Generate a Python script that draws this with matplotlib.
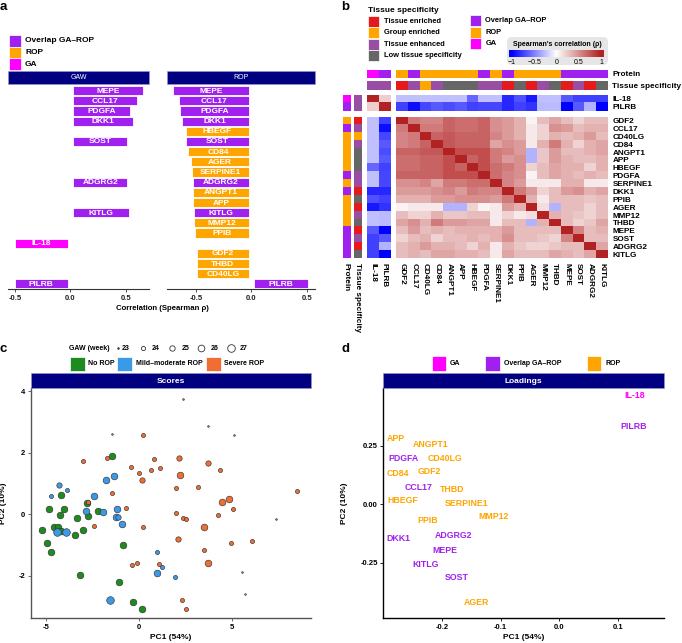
import numpy as np
import matplotlib
matplotlib.use('Agg')
import matplotlib.pyplot as plt
from matplotlib.colors import LinearSegmentedColormap, Normalize, to_rgb
from matplotlib.patches import Rectangle, FancyBboxPatch

plt.rcParams['font.family'] = ['Liberation Sans', 'DejaVu Sans']
plt.rcParams['axes.unicode_minus'] = False

nan = np.nan

# ---------------- data: panel a ----------------
a_genes = ['MEPE', 'CCL17', 'PDGFA', 'DKK1', 'HBEGF', 'SOST', 'CD84', 'AGER', 'SERPINE1',
           'ADGRG2', 'ANGPT1', 'APP', 'KITLG', 'MMP12', 'PPIB', 'IL-18', 'GDF2', 'THBD',
           'CD40LG', 'PILRB']
OV, RP, GA = 'Overlap GA–ROP', 'ROP', 'GA'
a_group = [OV, OV, OV, OV, RP, OV, RP, RP, RP, OV, RP, RP, OV, RP, RP, GA, RP, RP, RP, OV]
gaw_rho = [0.652, 0.604, 0.538, 0.562, nan, 0.508, nan, nan, nan, 0.514, nan, nan, 0.526,
           nan, nan, -0.498, nan, nan, nan, -0.498]
rop_rho = [-0.704, -0.653, -0.644, -0.629, -0.593, -0.593, -0.575, -0.542, -0.536, -0.530,
           -0.527, -0.524, -0.518, -0.515, -0.506, nan, -0.491, -0.491, -0.491, 0.512]

# ---------------- data: panel b ----------------
hm_genes = ['GDF2', 'CCL17', 'CD40LG', 'CD84', 'ANGPT1', 'APP', 'HBEGF', 'PDGFA', 'SERPINE1',
            'DKK1', 'PPIB', 'AGER', 'MMP12', 'THBD', 'MEPE', 'SOST', 'ADGRG2', 'KITLG']
hm_protein = [RP, OV, RP, RP, RP, RP, RP, OV, RP, OV, RP, RP, RP, RP, OV, OV, OV, OV]
TE, GE, TH, LO = 'Tissue enriched', 'Group enriched', 'Tissue enhanced', 'Low tissue specificity'
hm_tissue = [TE, TH, GE, TH, LO, LO, LO, TH, TH, TE, LO, TE, TH, LO, TE, TH, TE, LO]
side_genes = ['IL-18', 'PILRB']
side_protein = [GA, OV]
side_tissue = [TH, TH]
# lower triangle of the Spearman correlation matrix among hm_genes
corr_lower = [
    [1],
    [0.60, 1],
    [0.55, 0.60, 1],
    [0.55, 0.60, 0.70, 1],
    [0.70, 0.70, 0.75, 0.75, 1],
    [0.65, 0.65, 0.70, 0.70, 0.80, 1],
    [0.65, 0.65, 0.70, 0.70, 0.80, 0.70, 1],
    [0.70, 0.70, 0.70, 0.70, 0.80, 0.80, 0.80, 1],
    [0.50, 0.50, 0.55, 0.40, 0.60, 0.60, 0.65, 0.65, 1],
    [0.45, 0.45, 0.45, 0.50, 0.55, 0.45, 0.60, 0.55, 0.55, 1],
    [0.35, 0.35, 0.35, 0.45, 0.45, 0.50, 0.50, 0.50, 0.45, 0.60, 1],
    [0.05, 0.10, 0.10, 0.10, -0.30, -0.30, 0.20, 0.05, 0.10, 0.45, 0.35, 1],
    [0.30, 0.20, 0.20, 0.35, 0.25, 0.25, 0.30, 0.30, 0.10, 0.20, 0.10, 0.15, 1],
    [0.40, 0.50, 0.35, 0.60, 0.45, 0.45, 0.40, 0.40, 0.10, 0.30, 0.30, -0.30, 0.35, 1],
    [0.30, 0.45, 0.30, 0.35, 0.30, 0.35, 0.35, 0.35, 0.35, 0.45, 0.30, 0.30, 0.30, 0.30, 1],
    [0.20, 0.30, 0.35, 0.20, 0.30, 0.30, 0.35, 0.30, 0.35, 0.50, 0.30, 0.30, 0.25, 0.20, 0.55, 1],
    [0.30, 0.35, 0.45, 0.35, 0.35, 0.30, 0.20, 0.35, 0.10, 0.35, 0.25, 0.20, 0.20, 0.25, 0.30, 0.30, 1],
    [0.30, 0.35, 0.30, 0.40, 0.40, 0.35, 0.35, 0.30, 0.10, 0.40, 0.30, 0.30, 0.30, 0.40, 0.35, 0.30, 0.40, 1],
]
side_side = [[1.0, 0.22], [0.22, 1.0]]
side_main = [
    [-0.25, -0.25, -0.25, -0.25, -0.25, -0.25, -0.60, -0.25, -0.25, -0.85, -0.68, -0.90,
     -0.25, -0.25, -0.65, -0.75, -0.75, -0.75],
    [-0.75, -0.95, -0.72, -0.65, -0.70, -0.65, -0.75, -0.72, -0.72, -0.85, -0.75, -0.80,
     -0.27, -0.27, -1.00, -0.65, -0.30, -1.00],
]
cb_ticks = [-1, -0.5, 0, 0.5, 1]
cb_labels = ['−1', '−0.5', '0', '0.5', '1']

# ---------------- data: panel c ----------------
pc_group = (['No ROP'] * 22 + ['Mild–moderate ROP'] * 19 + ['Severe ROP'] * 46)
pc1 = [-1.45, -4.19, -2.80, -4.84, -4.05, -4.26, -2.20, -3.35, -2.76, -5.25, -4.57, -4.35,
       -4.19, -3.04, -3.44, -4.98, -4.73, -0.89, -3.20, -1.11, -0.34, 0.16,
       -1.38, -1.77, -4.33, -3.87, -4.73, -2.44, -2.87, -1.94, -1.18, -1.24, -1.13, -0.95,
       -4.41, -3.92, 0.95, 1.24, 0.95, 1.92, -1.56,
       -1.45, 0.20, -1.72, -3.04, 0.77, -0.46, 1.13, 0.61, 0.00, 0.13, -1.48, -2.74, -0.73,
       -2.42, 0.20, -0.39, -0.14, 1.04, 2.37, 3.68, 5.09, 2.13, 3.68, 4.36, 2.20, 1.99, 3.14,
       8.48, 4.84, 4.46, 5.05, 1.99, 2.35, 2.51, 4.23, 7.35, 3.48, 2.10, 4.93, 6.08, 3.48,
       3.69, 5.50, 5.68, 2.30, 2.53]
pc2 = [1.89, 0.64, 0.36, 0.16, 0.16, -0.01, 0.10, -0.11, -0.07, -0.52, -0.40, -0.40,
       -0.54, -0.50, -0.66, -0.94, -1.23, -0.99, -1.98, -2.19, -2.85, -3.08,
       1.24, 1.12, 0.94, 0.79, 0.59, 0.59, 0.12, 0.08, 0.17, -0.10, -0.10, -0.31,
       -0.58, -0.58, -1.24, -1.70, -1.92, -2.04, -2.77,
       2.59, 2.56, 1.82, 1.72, 1.78, 1.53, 1.51, 1.45, 1.34, 1.10, 0.70, 0.40, 0.21,
       -0.37, -0.42, -1.65, -1.58, -1.63, 3.73, 2.87, 2.57, 1.83, 1.66, 1.45, 1.26, 0.85, 0.88,
       0.77, 0.51, 0.40, 0.18, 0.03, -0.12, -0.17, -0.04, -0.17, -0.41, -0.81, -0.93, -0.86, -1.17,
       -1.60, -1.89, -2.60, -2.78, -3.08]
gaw_week = [26, 26, 26, 26, 26, 26, 26, 26, 26, 26, 26, 26, 26, 26, 26, 26, 26, 26, 26, 26, 26, 26,
            26, 26, 25, 24, 24, 26, 26, 26, 26, 26, 25, 26, 27, 27, 24, 24, 26, 24, 27,
            23, 24, 24, 24, 24, 24, 24, 24, 24, 25, 24, 24, 24, 24, 24, 24, 24, 24, 23, 23, 23,
            25, 25, 24, 26, 24, 24, 24, 26, 26, 24, 24, 24, 24, 24, 23, 26, 25, 24, 24, 24, 26,
            23, 23, 24, 24]
gaw_levels = [23, 24, 25, 26, 27]

# ---------------- data: panel d ----------------
ld_genes = ['IL-18', 'PILRB', 'APP', 'ANGPT1', 'PDGFA', 'CD40LG', 'CD84', 'GDF2', 'CCL17',
            'THBD', 'HBEGF', 'SERPINE1', 'MMP12', 'PPIB', 'DKK1', 'ADGRG2', 'MEPE', 'KITLG',
            'SOST', 'AGER']
ld_group = [GA, OV, RP, RP, OV, RP, RP, RP, OV, RP, RP, RP, RP, RP, OV, OV, OV, OV, OV, RP]
ld_pc1 = [0.128, 0.126, -0.279, -0.220, -0.266, -0.196, -0.275, -0.221, -0.240, -0.183,
          -0.267, -0.158, -0.112, -0.225, -0.275, -0.180, -0.195, -0.229, -0.175, -0.142]
ld_pc2 = [0.463, 0.332, 0.280, 0.253, 0.197, 0.197, 0.131, 0.141, 0.071, 0.063, 0.016,
          0.003, -0.052, -0.069, -0.145, -0.132, -0.197, -0.257, -0.314, -0.417]

# ---------------- styles ----------------
grp_col = {GA: '#FF00FF', OV: '#A020F0', RP: '#FFA500'}
tis_col = {TE: '#E41A1C', GE: '#FFA500', TH: '#984EA3', LO: '#666666'}
pc_col = {'No ROP': '#1E8B1E', 'Mild–moderate ROP': '#3A9AE8', 'Severe ROP': '#F06E32'}
pc_size = {23: 1.5, 24: 9, 25: 15, 26: 23, 27: 30}
NAVY = '#000080'

W, H = 682, 643
fig = plt.figure(figsize=(W / 100, H / 100), dpi=100)


def px_axes(x0, y0, x1, y1):
    return fig.add_axes([x0 / W, 1 - y1 / H, (x1 - x0) / W, (y1 - y0) / H])


overlay_items = []


def strip(x0, y0, x1, y1, label, fs=5.0, weight='normal'):
    overlay_items.append(('rect', (x0, y0, x1 - x0, y1 - y0), NAVY))
    overlay_items.append(('text', ((x0 + x1) / 2, (y0 + y1) / 2 + 0.3, label),
                          dict(color='white', fontsize=fs, fontweight=weight, ha='center', va='center')))


# ================= panel a =================
GAP = 0.025


def bar_panel(ax, vals, xlim):
    for i, (g, v, grp) in enumerate(zip(a_genes, vals, a_group)):
        if np.isnan(v):
            continue
        left = GAP * np.sign(v)
        ax.barh(i, v - left, left=left, height=0.9, color=grp_col[grp],
                edgecolor='white', linewidth=0.6)
        ax.text((left + v) / 2, i + 0.05, g, ha='center', va='center', color='white',
                fontsize=6.0, fontweight='bold')
    ax.set_ylim(len(a_genes) - 0.5, -0.65)
    ax.set_xlim(*xlim)
    for s in ('top', 'right', 'left'):
        ax.spines[s].set_visible(False)
    ax.spines['bottom'].set_color('#333333')
    ax.spines['bottom'].set_linewidth(0.8)
    ax.set_yticks([])
    ax.set_xticks([-0.5, 0, 0.5])
    ax.set_xticklabels(['-0.5', '0.0', '0.5'], fontsize=5.5, fontweight='bold', color='#222222')
    ax.tick_params(axis='x', length=2.5, width=0.6, color='#333333', pad=2)
    ax.patch.set_alpha(0)


axG = px_axes(8.3, 84, 149, 289)
bar_panel(axG, gaw_rho, (-0.559, 0.709))
axR = px_axes(167, 84, 315, 289)
bar_panel(axR, rop_rho, (-0.761, 0.572))
strip(8.3, 71, 149, 84, 'GAW')
strip(167, 71, 315, 84, 'ROP')

# ================= panel b =================
n = len(hm_genes)
M = np.array([[corr_lower[max(i, j)][min(i, j)] for j in range(n)] for i in range(n)])
SM = np.array(side_main)
SS = np.array(side_side)
cmap = LinearSegmentedColormap.from_list('rho', ['#0000FF', '#FFFFFF', '#B22222'])
norm = Normalize(-1, 1)

XS0, XS1 = 366.7, 390.0      # side columns
XM0, XM1 = 396.0, 607.7      # main columns
YS0, YS1 = 94.7, 110.7       # side rows
YM0, YM1 = 116.7, 258.3      # main rows


def heat(ax, data):
    ax.imshow(data, cmap=cmap, norm=norm, aspect='auto', interpolation='nearest')
    ax.set_xticks([])
    ax.set_yticks([])
    for s in ax.spines.values():
        s.set_visible(False)


def cat_img(ax, cats, cmapping, vertical=False):
    rgb = np.array([[to_rgb(cmapping[c]) for c in cats]])
    if vertical:
        rgb = rgb.transpose(1, 0, 2)
    ax.imshow(rgb, aspect='auto', interpolation='nearest')
    ax.set_xticks([])
    ax.set_yticks([])
    for s in ax.spines.values():
        s.set_visible(False)


lab_kw = dict(fontsize=5.9, fontweight='bold')

ax_main = px_axes(XM0, YM0, XM1, YM1)
heat(ax_main, M)
ax_main.yaxis.tick_right()
ax_main.set_yticks(range(n))
ax_main.set_yticklabels(hm_genes, **lab_kw)
ax_main.set_xticks(range(n))
ax_main.set_xticklabels(hm_genes, rotation=270, **lab_kw)
ax_main.tick_params(length=0, pad=3.4)

ax_sm = px_axes(XS0, YM0, XS1, YM1)
heat(ax_sm, SM.T)
ax_sm.set_xticks(range(2))
ax_sm.set_xticklabels(side_genes, rotation=270, **lab_kw)
ax_sm.tick_params(length=0, pad=3.4)

ax_ms = px_axes(XM0, YS0, XM1, YS1)
heat(ax_ms, SM)
ax_ms.yaxis.tick_right()
ax_ms.set_yticks(range(2))
ax_ms.set_yticklabels(side_genes, **lab_kw)
ax_ms.tick_params(length=0, pad=3.4)

ax_ss = px_axes(XS0, YS0, XS1, YS1)
heat(ax_ss, SS)

# top annotations
a1 = px_axes(XS0, 70, XS1, 78); cat_img(a1, side_protein, grp_col)
a2 = px_axes(XM0, 70, XM1, 78); cat_img(a2, hm_protein, grp_col)
a2.yaxis.tick_right(); a2.set_yticks([0]); a2.set_yticklabels(['Protein'], **lab_kw)
a2.tick_params(length=0, pad=3.4)
a3 = px_axes(XS0, 81.3, XS1, 89.7); cat_img(a3, side_tissue, tis_col)
a4 = px_axes(XM0, 81.3, XM1, 89.7); cat_img(a4, hm_tissue, tis_col)
a4.yaxis.tick_right(); a4.set_yticks([0]); a4.set_yticklabels(['Tissue specificity'], **lab_kw)
a4.tick_params(length=0, pad=3.4)

# left annotations
l1 = px_axes(342.7, YS0, 350, YS1); cat_img(l1, side_protein, grp_col, vertical=True)
l2 = px_axes(342.7, YM0, 350, YM1); cat_img(l2, hm_protein, grp_col, vertical=True)
l2.set_xticks([0]); l2.set_xticklabels(['Protein'], rotation=270, **lab_kw)
l2.tick_params(length=0, pad=3.4)
l3 = px_axes(353.7, YS0, 361.7, YS1); cat_img(l3, side_tissue, tis_col, vertical=True)
l4 = px_axes(353.7, YM0, 361.7, YM1); cat_img(l4, hm_tissue, tis_col, vertical=True)
l4.set_xticks([0]); l4.set_xticklabels(['Tissue specificity'], rotation=270, **lab_kw)
l4.tick_params(length=0, pad=3.4)

# ================= panel c =================
ax_c = px_axes(31, 388.3, 311, 618.3)
for x, y, g, w in zip(pc1, pc2, pc_group, gaw_week):
    ax_c.scatter(x, y, s=pc_size[w], color=pc_col[g], edgecolor='#333333', linewidth=0.45,
                 zorder=3)
ax_c.set_xlim(-5.82, 9.23)
ax_c.set_ylim(-3.38, 4.09)
ax_c.set_xticks([-5, 0, 5])
ax_c.set_yticks([-2, 0, 2, 4])
ax_c.set_xticklabels(['-5', '0', '5'], fontsize=5.5, fontweight='bold')
ax_c.set_yticklabels(['-2', '0', '2', '4'], fontsize=5.5, fontweight='bold')
ax_c.tick_params(length=2, width=0.6, color='#555555', pad=2)
for s in ('top', 'right'):
    ax_c.spines[s].set_visible(False)
for s in ('left', 'bottom'):
    ax_c.spines[s].set_color('#555555')
    ax_c.spines[s].set_linewidth(1.0)
strip(31, 373.3, 311, 388.3, 'Scores', fs=6, weight='bold')

# ================= panel d =================
ax_d = px_axes(383.3, 388.3, 663.7, 618.3)
for g, x, y, grp in zip(ld_genes, ld_pc1, ld_pc2, ld_group):
    ax_d.text(x, y, g, color=grp_col[grp], ha='center', va='center', fontsize=6.3,
              fontweight='bold')
ax_d.set_xlim(-0.3003, 0.178)
ax_d.set_ylim(-0.486, 0.494)
ax_d.set_xticks([-0.2, -0.1, 0.0, 0.1])
ax_d.set_xticklabels(['-0.2', '-0.1', '0.0', '0.1'], fontsize=5.5, fontweight='bold')
ax_d.set_yticks([-0.25, 0.0, 0.25])
ax_d.set_yticklabels(['-0.25', '0.00', '0.25'], fontsize=5.5, fontweight='bold')
ax_d.tick_params(length=2, width=0.6, pad=2)
for s in ('top', 'right'):
    ax_d.spines[s].set_visible(False)
for s in ('left', 'bottom'):
    ax_d.spines[s].set_linewidth(1.0)
strip(383.3, 373.3, 663.7, 388.3, 'Loadings', fs=6, weight='bold')

# ================= overlay (legends, labels) =================
ov = px_axes(0, 0, W, H)
ov.set_xlim(0, W)
ov.set_ylim(H, 0)
ov.axis('off')
ov.patch.set_visible(False)

for kind, geom, style in overlay_items:
    if kind == 'rect':
        x0, y0, w, h = geom
        ov.add_patch(Rectangle((x0, y0), w, h, facecolor=style, edgecolor='#9999CC', linewidth=0.4))
    else:
        x, y, t = geom
        ov.text(x, y, t, **style)

bold = dict(fontweight='bold', va='center')
# panel letters
for x, y, t in [(0, 7, 'a'), (341, 7.5, 'b'), (0, 348.5, 'c'), (341, 349, 'd')]:
    ov.text(x, y, t, fontsize=9.5, fontweight='bold', ha='left', va='center')

# legend a
for (yc, g) in zip([41, 52.5, 64], [OV, RP, GA]):
    ov.add_patch(Rectangle((9.3, yc - 5.7), 11.4, 11.4, facecolor=grp_col[g], edgecolor='white', lw=0.5))
    ov.text(25, yc, g, fontsize=6, **bold)
ov.text(162, 309, 'Correlation (Spearman ρ)', fontsize=5.6, ha='center', **bold)

# legend b
ov.text(367.7, 10, 'Tissue specificity', fontsize=6, ha='left', **bold)
for yc, t in zip([21.3, 32.7, 44.0, 55.6], [TE, GE, TH, LO]):
    ov.add_patch(Rectangle((367.7, yc - 5.5), 11, 11, facecolor=tis_col[t], edgecolor='white', lw=0.5))
    ov.text(383.7, yc, t, fontsize=5.4, ha='left', **bold)
for yc, g in zip([20.7, 32.2, 43.6], [OV, RP, GA]):
    ov.add_patch(Rectangle((470.3, yc - 5.5), 10.8, 11, facecolor=grp_col[g], edgecolor='white', lw=0.5))
    ov.text(485.3, yc, g, fontsize=5.4, ha='left', **bold)
ov.add_patch(FancyBboxPatch((507, 37), 101, 28, boxstyle='round,pad=0,rounding_size=5',
                            facecolor='#E6E6E6', edgecolor='none', zorder=0))
ov.text(557.5, 44, "Spearman's correlation (ρ)", fontsize=5, ha='center', **bold)

# legend c
ov.text(69, 348, 'GAW (week)', fontsize=5, ha='left', **bold)
for xm, xt, w in zip([117.7, 142.7, 172, 201, 230.7], [126, 156, 185.3, 215, 244], gaw_levels):
    if w == 23:
        ov.scatter(xm, 348, s=pc_size[w], color='#333333', edgecolor='#333333', linewidth=0.45)
    else:
        ov.scatter(xm, 348, s=pc_size[w], facecolor='white', edgecolor='#333333', linewidth=0.6)
    ov.text(xt, 348, str(w), fontsize=5, ha='center', **bold)
for x0, xt, g in zip([70, 117.3, 206], [88, 136, 224], ['No ROP', 'Mild–moderate ROP', 'Severe ROP']):
    ov.add_patch(Rectangle((x0, 356.7), 15, 14, facecolor=pc_col[g], edgecolor='white', lw=0.5))
    ov.text(xt, 363.7, g, fontsize=5, ha='left', **bold)
ov.text(171, 637.5, 'PC1 (54%)', fontsize=6, ha='center', **bold)
ov.text(4, 503, 'PC2 (10%)', fontsize=6, ha='center', rotation=90, **bold)

# legend d
for x0, xt, g in zip([431.7, 485.3, 586.7], [450, 504, 605], [GA, OV, RP]):
    ov.add_patch(Rectangle((x0, 355.7), 14.6, 15, facecolor=grp_col[g], edgecolor='white', lw=0.5))
    ov.text(xt, 363.2, g, fontsize=5, ha='left', **bold)
ov.text(523.7, 637.5, 'PC1 (54%)', fontsize=6, ha='center', **bold)
ov.text(345, 503, 'PC2 (10%)', fontsize=6, ha='center', rotation=90, **bold)

# colour bar (drawn above the overlay's grey box)
cax = px_axes(509.3, 50, 604.3, 57)
cax.set_zorder(10)
cb_lo, cb_hi = -1.06, 1.07
cax.imshow(np.linspace(cb_lo, cb_hi, 300)[None, :], cmap=cmap, norm=norm, aspect='auto',
           extent=(cb_lo, cb_hi, 0, 1))
cax.set_xlim(cb_lo, cb_hi)
cax.set_yticks([])
cax.set_xticks(cb_ticks)
cax.set_xticklabels(cb_labels, fontsize=5)
cax.tick_params(axis='x', length=0, pad=1.5)
for s in cax.spines.values():
    s.set_visible(False)

fig.savefig('out.png', dpi=100)
